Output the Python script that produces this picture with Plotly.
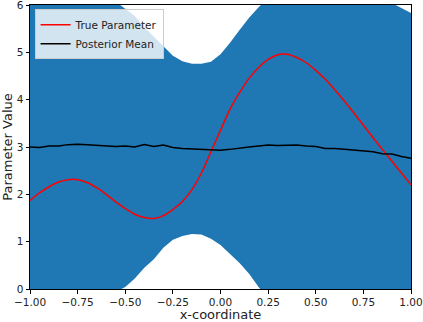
import plotly.graph_objects as go

# x grid shared by all series
x_coord = [-1.0, -0.95, -0.9, -0.85, -0.8, -0.75, -0.7, -0.65, -0.6, -0.55,
           -0.5, -0.45, -0.4, -0.35, -0.3, -0.25, -0.2, -0.15, -0.1, -0.05,
           0.0, 0.05, 0.1, 0.15, 0.2, 0.25, 0.3, 0.35, 0.4, 0.45,
           0.5, 0.55, 0.6, 0.65, 0.7, 0.75, 0.8, 0.85, 0.9, 0.95, 1.0]

true_param = [1.87, 2.03, 2.16, 2.26, 2.31, 2.31, 2.25, 2.14, 2.00, 1.84,
              1.70, 1.58, 1.51, 1.49, 1.55, 1.68, 1.85, 2.10, 2.45, 2.90,
              3.35, 3.80, 4.15, 4.45, 4.68, 4.85, 4.95, 4.96, 4.89, 4.78,
              4.62, 4.43, 4.21, 3.97, 3.72, 3.46, 3.20, 2.95, 2.70, 2.45, 2.20]

post_mean = [3.00, 2.99, 3.02, 3.02, 3.05, 3.06, 3.05, 3.04, 3.02, 3.01,
             3.02, 3.00, 3.05, 3.01, 3.04, 2.99, 2.97, 2.96, 2.95, 2.93,
             2.93, 2.95, 2.98, 3.00, 3.02, 3.04, 3.03, 3.04, 3.04, 3.02,
             3.01, 2.97, 2.97, 2.95, 2.93, 2.92, 2.90, 2.86, 2.85, 2.80, 2.76]

# credible band edges (values outside 0..6 are clipped by the axes)
band_upper = [7.6, 7.5, 7.4, 7.3, 7.15, 7.0, 6.85, 6.6, 6.35, 6.07,
              5.92, 5.77, 5.53, 5.33, 5.13, 4.93, 4.81, 4.76, 4.76, 4.80,
              4.96, 5.20, 5.47, 5.73, 5.95, 6.15, 6.3, 6.4, 6.45, 6.45,
              6.4, 6.35, 6.3, 6.25, 6.2, 6.15, 6.1, 6.06, 6.04, 5.94, 5.83]

band_lower = [-1.6, -1.5, -1.4, -1.25, -1.1, -0.95, -0.8, -0.55, -0.3, -0.06,
              0.04, 0.22, 0.45, 0.63, 0.87, 1.04, 1.12, 1.16, 1.15, 1.06,
              0.93, 0.75, 0.55, 0.32, 0.04, -0.2, -0.3, -0.4, -0.45, -0.45,
              -0.4, -0.4, -0.35, -0.35, -0.3, -0.3, -0.3, -0.3, -0.34, -0.34, -0.3]

x_ticks = [-1.0, -0.75, -0.5, -0.25, 0.0, 0.25, 0.5, 0.75, 1.0]
y_ticks = [0, 1, 2, 3, 4, 5, 6]

fig = go.Figure()
fig.add_trace(go.Scatter(x=x_coord, y=band_lower, mode='lines', line=dict(width=0),
                         showlegend=False, hoverinfo='skip'))
fig.add_trace(go.Scatter(x=x_coord, y=band_upper, mode='lines', line=dict(width=0),
                         fill='tonexty', fillcolor='#1f77b4', showlegend=False, hoverinfo='skip'))
fig.add_trace(go.Scatter(x=x_coord, y=true_param, mode='lines', name='True Parameter',
                         line=dict(color='red', width=1.5, shape='spline')))
fig.add_trace(go.Scatter(x=x_coord, y=post_mean, mode='lines', name='Posterior Mean',
                         line=dict(color='black', width=1.5)))

axis_style = dict(showgrid=False, zeroline=False, showline=True, mirror=True,
                  linecolor='black', linewidth=1, ticks='outside', ticklen=3.5,
                  tickcolor='black', tickwidth=1, ticklabeloverflow='allow',
                  automargin=False)

fig.update_xaxes(range=[-1, 1], tickvals=x_ticks, tickformat='.2f',
                 title=dict(text='x-coordinate'), **axis_style)
fig.update_yaxes(range=[0, 6], tickvals=y_ticks,
                 title=dict(text='Parameter Value'), **axis_style)

fig.update_layout(
    width=423, height=322,
    margin=dict(l=30, r=12, t=5, b=33),
    plot_bgcolor='white', paper_bgcolor='white',
    font=dict(family='DejaVu Sans', size=10.5, color='#222222'),
    legend=dict(x=0.012, y=0.985, xanchor='left', yanchor='top', traceorder='normal',
                bgcolor='rgba(255,255,255,0.8)', bordercolor='#cccccc', borderwidth=1,
                itemwidth=30, font=dict(size=10.5)),
)

# the page body has a default 8px margin; remove it so the figure fills the window
fig.write_html("out.html", config={'displayModeBar': False},
               post_script="document.body.style.margin='0';")
